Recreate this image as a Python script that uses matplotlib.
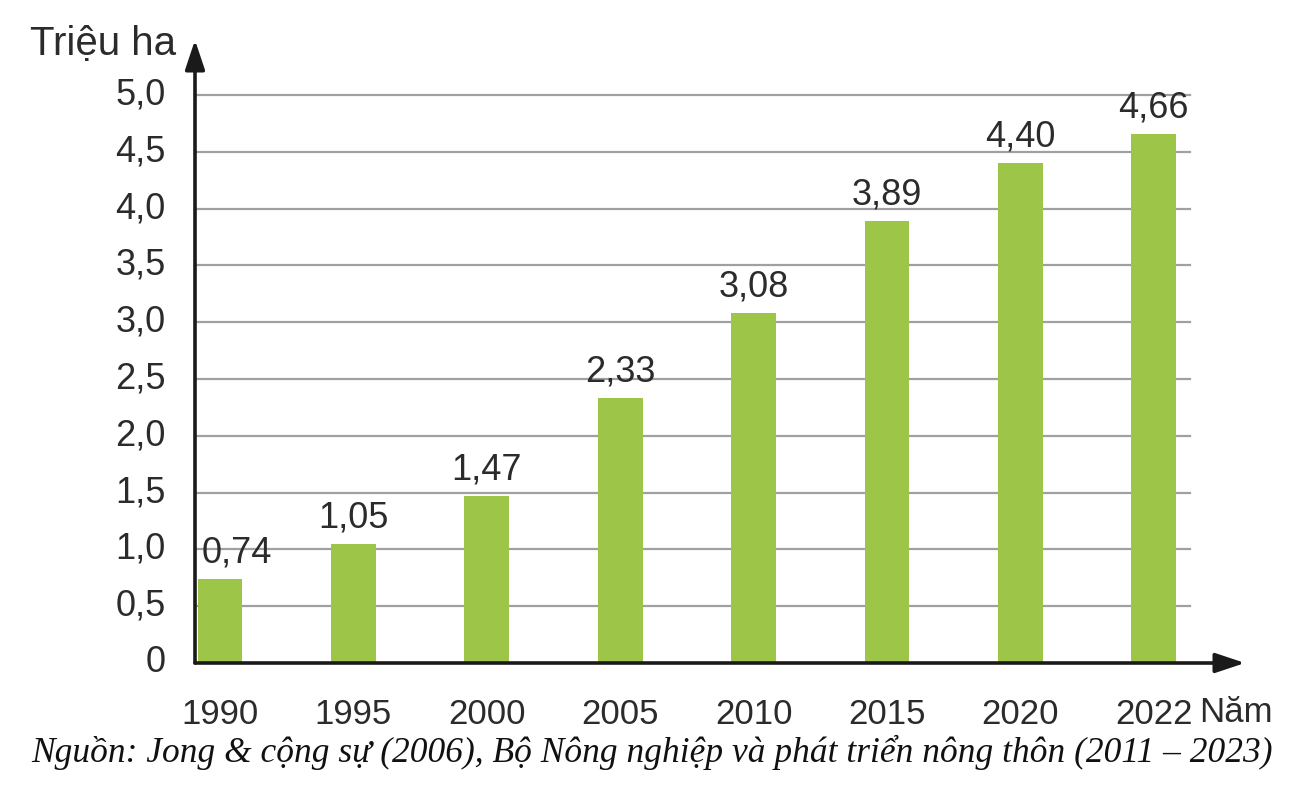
import matplotlib
matplotlib.use("Agg")
import matplotlib.pyplot as plt

years = ["1990", "1995", "2000", "2005", "2010", "2015", "2020", "2022"]
values = [0.74, 1.05, 1.47, 2.33, 3.08, 3.89, 4.40, 4.66]
value_labels = ["0,74", "1,05", "1,47", "2,33", "3,08", "3,89", "4,40", "4,66"]
yticks = [0, 0.5, 1.0, 1.5, 2.0, 2.5, 3.0, 3.5, 4.0, 4.5, 5.0]
ytick_labels = ["0", "0,5", "1,0", "1,5", "2,0", "2,5", "3,0", "3,5", "4,0", "4,5", "5,0"]
y_title = "Triệu ha"
x_title = "Năm"
source = "Nguồn: Jong & cộng sự (2006), Bộ Nông nghiệp và phát triển nông thôn (2011 – 2023)"

SANS = ["Liberation Sans", "DejaVu Sans"]
SERIF = ["Liberation Serif", "DejaVu Serif"]
TXT = "#2b2b2b"
FS = 25

fig = plt.figure(figsize=(12.96, 7.96), dpi=100)
W, H = 1296, 796
x0, x1, ytop, ybot = 195, 1245, 40, 663
ax = fig.add_axes([x0 / W, 1 - ybot / H, (x1 - x0) / W, (ybot - ytop) / H])
ax.set_facecolor("white")

pos = list(range(len(years)))
step = 133.4
ax.set_xlim((x0 - 220) / step, (x1 - 220) / step)
ax.set_ylim(0, (ybot - ytop) / 113.6)

grid_frac = (1190 - x0) / (x1 - x0)
for t in yticks[1:]:
    ax.axhline(t, xmin=0, xmax=grid_frac, color="#a0a0a0", lw=1.6, zorder=1)

ax.bar(pos, values, width=0.335, color="#9dc547", zorder=2)

for i, (v, lab) in enumerate(zip(values, value_labels)):
    dx = 12 if i == 0 else 0
    ax.annotate(lab, (i, v), xytext=(dx, 6), textcoords="offset points",
                ha="center", va="bottom", fontsize=26, color=TXT, family=SANS, zorder=3)

for s in ax.spines.values():
    s.set_visible(False)
ax.set_xticks([])
ax.set_yticks([])

for t, lab in zip(yticks, ytick_labels):
    ax.annotate(lab, (0, t), xycoords=("axes fraction", "data"), xytext=(-21, 0),
                textcoords="offset points", ha="right", va="center",
                fontsize=26, color=TXT, family=SANS)
for i, lab in enumerate(years):
    ax.annotate(lab, (i, 0), xycoords=("data", "data"), xytext=(0, -37),
                textcoords="offset points", ha="center", va="center",
                fontsize=FS, color=TXT, family=SANS, annotation_clip=False)

arrow = dict(arrowstyle="-|>,head_length=0.9,head_width=0.3", color="#1a1a1a", lw=2.6,
             mutation_scale=20, shrinkA=0, shrinkB=0)
ax.annotate("", xy=(0, 1), xytext=(0, 0), xycoords="axes fraction", arrowprops=arrow,
            annotation_clip=False)
ax.annotate("", xy=(1, 0), xytext=(0, 0), xycoords="axes fraction", arrowprops=arrow,
            annotation_clip=False)

fig.text(30 / W, 1 - 44 / H, y_title, ha="left", va="center", fontsize=29, color=TXT, family=SANS)
fig.text(1273 / W, 1 - 713 / H, x_title, ha="right", va="center", fontsize=FS, color=TXT, family=SANS)
fig.text(652 / W, 1 - 752 / H, source, ha="center", va="center", fontsize=25.5,
         style="italic", color="#111111", family=SERIF)

fig.savefig("out.png", dpi=100, facecolor="white")
